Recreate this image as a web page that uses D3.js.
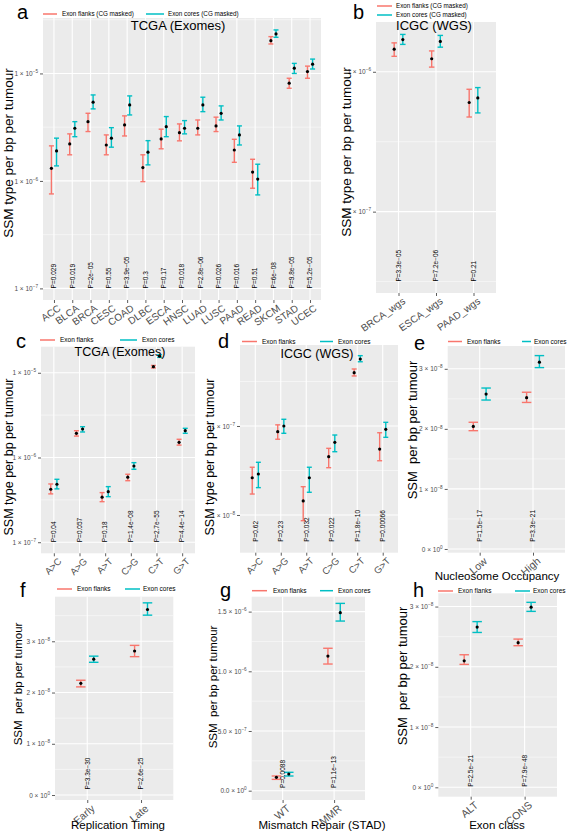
<!DOCTYPE html>
<html><head><meta charset="utf-8">
<script src="https://cdn.jsdelivr.net/npm/d3@7"></script>
<style>
body{margin:0;background:#fff}
svg{display:block}
text{font-family:"Liberation Sans",Arial,Helvetica,sans-serif}
</style>
</head><body>
<svg id="chart" width="567" height="832"></svg>
<script>
// ---------------- DATA ----------------
const seriesNamesMasked = ["Exon flanks (CG masked)", "Exon cores (CG masked)"];
const seriesNames = ["Exon flanks", "Exon cores"];

// Panel a: TCGA (Exomes)
const aCats = ["ACC","BLCA","BRCA","CESC","COAD","DLBC","ESCA","HNSC","LUAD","LUSC","PAAD","READ","SKCM","STAD","UCEC"];
const aFlank   = [1.31e-6,2.21e-6,3.56e-6,2.16e-6,3.32e-6,1.33e-6,2.46e-6,2.81e-6,3.09e-6,3.25e-6,1.94e-6,1.21e-6,2.02e-5,8.11e-6,1.04e-5];
const aFlankLo = [7.57e-7,1.75e-6,2.88e-6,1.75e-6,2.62e-6,9.85e-7,1.99e-6,2.36e-6,2.68e-6,2.88e-6,1.49e-6,8.55e-7,1.88e-5,7.28e-6,9.02e-6];
const aFlankHi = [2.12e-6,2.74e-6,4.26e-6,2.68e-6,4.03e-6,1.75e-6,3.03e-6,3.39e-6,3.69e-6,3.92e-6,2.44e-6,1.59e-6,2.20e-5,9.02e-6,1.17e-5];
const aCore    = [1.90e-6,3.09e-6,5.40e-6,2.50e-6,5.09e-6,1.85e-6,3.20e-6,3.09e-6,5.09e-6,4.26e-6,2.68e-6,1.04e-6,2.33e-5,1.12e-5,1.22e-5];
const aCoreLo  = [1.38e-6,2.58e-6,4.68e-6,2.06e-6,4.11e-6,1.41e-6,2.58e-6,2.74e-6,4.41e-6,3.69e-6,2.16e-6,7.41e-7,2.17e-5,1.00e-5,1.10e-5];
const aCoreHi  = [2.50e-6,3.56e-6,6.31e-6,3.13e-6,6.18e-6,2.37e-6,3.97e-6,3.64e-6,6.01e-6,4.99e-6,3.25e-6,1.43e-6,2.54e-5,1.24e-5,1.36e-5];
const aPvals = ["P=0.029","P=0.019","P=2e\u221205","P=0.55","P=3.9e\u221205","P=0.3","P=0.17","P=0.018","P=2.8e\u221206","P=0.026","P=0.016","P=0.51","P=6e\u221208","P=9.8e\u221205","P=5.2e\u221205"];
const aTicks = [1e-7,1e-6,1e-5];
const aTickLabels = ["1 \u00d7 10^\u22127","1 \u00d7 10^\u22126","1 \u00d7 10^\u22125"];
const aYLim = [7.8e-8, 3.28e-5];
const aPY = 1e-7;

// Panel b: ICGC (WGS)
const bCats = ["BRCA_wgs","ESCA_wgs","PAAD_wgs"];
const bFlank   = [1.45e-6,1.24e-6,6.03e-7];
const bFlankLo = [1.29e-6,1.08e-6,4.75e-7];
const bFlankHi = [1.61e-6,1.41e-6,7.50e-7];
const bCore    = [1.70e-6,1.65e-6,6.50e-7];
const bCoreLo  = [1.57e-6,1.50e-6,5.08e-7];
const bCoreHi  = [1.85e-6,1.82e-6,7.71e-7];
const bPvals = ["P=3.3e\u221205","P=7.2e\u221206","P=0.21"];
const bTicks = [1e-7,1e-6];
const bTickLabels = ["1 \u00d7 10^\u22127","1 \u00d7 10^\u22126"];
const bYLim = [2.62e-8, 2.27e-6];
const bPY = 3.16e-8;

// Panel c: TCGA (Exomes) by substitution
const cCats = ["A>C","A>G","A>T","C>G","C>T","G>T"];
const cFlank   = [4.22e-7,1.93e-6,3.40e-7,5.85e-7,1.18e-5,1.51e-6];
const cFlankLo = [3.72e-7,1.79e-6,3.01e-7,5.32e-7,1.14e-5,1.40e-6];
const cFlankHi = [4.87e-7,2.07e-6,3.85e-7,6.34e-7,1.22e-5,1.64e-6];
const cCore    = [4.83e-7,2.17e-6,3.95e-7,7.94e-7,1.57e-5,2.07e-6];
const cCoreLo  = [4.26e-7,2.00e-6,3.45e-7,7.26e-7,1.52e-5,1.93e-6];
const cCoreHi  = [5.53e-7,2.31e-6,4.53e-7,8.69e-7,1.63e-5,2.21e-6];
const cPvals = ["P=0.04","P=0.057","P=0.18","P=1.4e\u221208","P=2.7e\u221255","P=4.4e\u221214"];
const cTicks = [1e-7,1e-6,1e-5];
const cTickLabels = ["1 \u00d7 10^\u22127","1 \u00d7 10^\u22126","1 \u00d7 10^\u22125"];
const cYLim = [7.4e-8, 2.03e-5];
const cPY = 1e-7;

// Panel d: ICGC (WGS) by substitution
const dCats = ["A>C","A>G","A>T","C>G","C>T","G>T"];
const dFlank   = [2.62e-8,8.63e-8,1.44e-8,4.52e-8,3.97e-7,5.50e-8];
const dFlankLo = [1.72e-8,7.10e-8,8.63e-9,3.40e-8,3.65e-7,4.07e-8];
const dFlankHi = [3.44e-8,1.03e-7,2.08e-8,5.61e-8,4.37e-7,8.40e-8];
const dCore    = [2.89e-8,1.00e-7,2.62e-8,6.56e-8,5.66e-7,9.18e-8];
const dCoreLo  = [2.03e-8,8.28e-8,1.80e-8,5.14e-8,5.27e-7,7.46e-8];
const dCoreHi  = [3.91e-8,1.19e-7,3.44e-8,7.92e-8,6.17e-7,1.10e-7];
const dPvals = ["P=0.62","P=0.23","P=0.032","P=0.022","P=1.8e\u221210","P=0.00066"];
const dTicks = [1e-8,1e-7];
const dTickLabels = ["1 \u00d7 10^\u22128","1 \u00d7 10^\u22127"];
const dYLim = [3.77e-9, 8.13e-7];
const dPY = 5e-9;

// Panel e: Nucleosome Occupancy
const eCats = ["Low","High"];
const eFlank   = [2.04e-8,2.52e-8];
const eFlankLo = [1.97e-8,2.44e-8];
const eFlankHi = [2.11e-8,2.61e-8];
const eCore    = [2.58e-8,3.11e-8];
const eCoreLo  = [2.48e-8,3.02e-8];
const eCoreHi  = [2.68e-8,3.22e-8];
const ePvals = ["P=1.5e\u221217","P=3.3e\u221221"];
const eTicks = [0,1e-8,2e-8,3e-8];
const eTickLabels = ["0 \u00d7 10^0","1 \u00d7 10^\u22128","2 \u00d7 10^\u22128","3 \u00d7 10^\u22128"];
const eYLim = [-6.2e-10, 3.38e-8];
const ePY = 1.2e-9;

// Panel f: Replication Timing
const fCats = ["Early","Late"];
const fFlank   = [2.18e-8,2.81e-8];
const fFlankLo = [2.11e-8,2.70e-8];
const fFlankHi = [2.24e-8,2.92e-8];
const fCore    = [2.65e-8,3.62e-8];
const fCoreLo  = [2.59e-8,3.51e-8];
const fCoreHi  = [2.71e-8,3.75e-8];
const fPvals = ["P=3.3e\u221230","P=2.6e\u221225"];
const fTicks = [0,1e-8,2e-8,3e-8];
const fTickLabels = ["0 \u00d7 10^0","1 \u00d7 10^\u22128","2 \u00d7 10^\u22128","3 \u00d7 10^\u22128"];
const fYLim = [-9.7e-10, 3.87e-8];
const fPY = 1.1e-9;

// Panel g: Mismatch Repair (STAD)
const gCats = ["WT","MMR"];
const gFlank   = [1.12e-7,1.128e-6];
const gFlankLo = [9.5e-8,1.061e-6];
const gFlankHi = [1.23e-7,1.193e-6];
const gCore    = [1.40e-7,1.491e-6];
const gCoreLo  = [1.23e-7,1.421e-6];
const gCoreHi  = [1.54e-7,1.569e-6];
const gPvals = ["P=0.0088","P=1.1e\u221213"];
const gTicks = [0,5e-7,1e-6,1.5e-6];
const gTickLabels = ["0.0 \u00d7 10^0","5.0 \u00d7 10^\u22127","1.0 \u00d7 10^\u22126","1.5 \u00d7 10^\u22126"];
const gYLim = [-7.8e-8, 1.625e-6];
const gPY = 2.3e-8;

// Panel h: Exon class
const hCats = ["ALT","CONS"];
const hFlank   = [2.10e-8,2.40e-8];
const hFlankLo = [2.04e-8,2.35e-8];
const hFlankHi = [2.20e-8,2.46e-8];
const hCore    = [2.66e-8,2.99e-8];
const hCoreLo  = [2.57e-8,2.92e-8];
const hCoreHi  = [2.75e-8,3.07e-8];
const hPvals = ["P=2.5e\u221221","P=7.9e\u221248"];
const hTicks = [0,1e-8,2e-8,3e-8];
const hTickLabels = ["0 \u00d7 10^0","1 \u00d7 10^\u22128","2 \u00d7 10^\u22128","3 \u00d7 10^\u22128"];
const hYLim = [-1.56e-9, 3.22e-8];
const hPY = 1e-10;

// ---------------- DRAWING ----------------
const COL_FLANK = "#F8766D", COL_CORE = "#00BFC4";
const svg = d3.select("#chart");

function sciText(sel, str, fs) {
  const parts = str.split("^");
  sel.text(null);
  sel.append("tspan").text(parts[0]);
  if (parts.length > 1) sel.append("tspan").attr("dy", -fs * 0.45).attr("font-size", fs * 0.72).text(parts[1]);
}

function panel(o) {
  const g = svg.append("g");
  const x = d3.scalePoint().domain(o.cats).range([o.x0, o.x1]).padding(o.pad);
  const y = (o.log ? d3.scaleLog() : d3.scaleLinear()).domain(o.yLim).range([o.y1, o.y0]);
  const step = x.step();
  const dodge = o.dodge * step;

  g.append("rect").attr("x", o.x0).attr("y", o.y0).attr("width", o.x1 - o.x0).attr("height", o.y1 - o.y0).attr("fill", "#EBEBEB");

  // minor gridlines (midway between major breaks)
  let minors = [];
  if (o.log) {
    const e = o.ticks.map(t => Math.log10(t));
    const lo = d3.min(e) - 1, hi = d3.max(e) + 1;
    for (let k = lo; k < hi; k++) minors.push(Math.pow(10, k + 0.5));
  } else {
    const st = o.ticks[1] - o.ticks[0];
    for (let k = -1; k < o.ticks.length + 1; k++) minors.push(o.ticks[0] + (k + 0.5) * st);
  }
  minors = minors.filter(v => v > o.yLim[0] && v < o.yLim[1]);
  g.selectAll(null).data(minors).enter().append("line")
    .attr("x1", o.x0).attr("x2", o.x1).attr("y1", d => y(d)).attr("y2", d => y(d))
    .attr("stroke", "#fff").attr("stroke-width", 0.5);
  g.selectAll(null).data(o.ticks).enter().append("line")
    .attr("x1", o.x0).attr("x2", o.x1).attr("y1", d => y(d)).attr("y2", d => y(d))
    .attr("stroke", "#fff").attr("stroke-width", 1.1);
  g.selectAll(null).data(o.cats).enter().append("line")
    .attr("x1", d => x(d)).attr("x2", d => x(d)).attr("y1", o.y0).attr("y2", o.y1)
    .attr("stroke", "#fff").attr("stroke-width", 1.1);

  // y axis
  const ya = g.append("g").attr("transform", `translate(${o.x0},0)`)
    .call(d3.axisLeft(y).tickValues(o.ticks).tickSize(3).tickPadding(2));
  ya.attr("font-size", null).attr("font-family", null);
  ya.select(".domain").remove();
  ya.selectAll(".tick line").attr("stroke", "#333").attr("stroke-width", 0.8);
  ya.selectAll(".tick text").attr("fill", "#4d4d4d").attr("font-size", o.yfs)
    .each(function(d, i) { sciText(d3.select(this), o.tickLabels[i], o.yfs); });

  // x axis
  const xa = g.append("g").attr("transform", `translate(0,${o.y1})`)
    .call(d3.axisBottom(x).tickSize(3).tickPadding(2));
  xa.attr("font-size", null).attr("font-family", null);
  xa.select(".domain").remove();
  xa.selectAll(".tick line").attr("stroke", "#333").attr("stroke-width", 0.8);
  xa.selectAll(".tick text").attr("fill", "#4d4d4d").attr("font-size", o.xfs)
    .attr("text-anchor", "end").attr("x", 0).attr("y", 0).attr("dy", "0.7em")
    .attr("transform", `translate(${o.xlx},${o.xly}) rotate(${-o.angle})`);

  // error bars + points
  const series = [
    {col: COL_FLANK, m: o.flank, lo: o.flankLo, hi: o.flankHi, off: -dodge},
    {col: COL_CORE, m: o.core, lo: o.coreLo, hi: o.coreHi, off: dodge}
  ];
  series.forEach(s => {
    const rows = o.cats.map((c, i) => ({c, m: s.m[i], lo: s.lo[i], hi: s.hi[i]}));
    const eg = g.append("g").attr("stroke", s.col).attr("stroke-width", 1.4).attr("fill", "none");
    rows.forEach(r => {
      const cx = x(r.c) + s.off;
      eg.append("line").attr("x1", cx).attr("x2", cx).attr("y1", y(r.lo)).attr("y2", y(r.hi));
      eg.append("line").attr("x1", cx - o.cap / 2).attr("x2", cx + o.cap / 2).attr("y1", y(r.lo)).attr("y2", y(r.lo));
      eg.append("line").attr("x1", cx - o.cap / 2).attr("x2", cx + o.cap / 2).attr("y1", y(r.hi)).attr("y2", y(r.hi));
    });
    g.selectAll(null).data(rows).enter().append("circle")
      .attr("cx", r => x(r.c) + s.off).attr("cy", r => y(r.m)).attr("r", 1.6).attr("fill", "#000");
  });

  // p-value labels
  g.selectAll(null).data(o.cats).enter().append("text")
    .attr("transform", d => `translate(${x(d)},${y(o.pY)}) rotate(-90)`)
    .attr("dy", "0.35em").attr("font-size", o.pfs).attr("fill", "#000")
    .text((d, i) => o.pvals[i]);

  // title inside
  if (o.title) g.append("text").attr("x", o.title.x).attr("y", o.title.y).attr("text-anchor", "middle")
    .attr("font-size", o.title.fs).attr("fill", "#000").text(o.title.t);

  // y title
  g.append("text").attr("transform", `translate(${o.yt.x},${o.yt.y}) rotate(-90)`)
    .attr("text-anchor", "middle").attr("font-size", o.yt.fs).attr("fill", "#000")
    .style("white-space", "pre").text(o.yt.t);

  // x title
  if (o.xt) g.append("text").attr("x", o.xt.x).attr("y", o.xt.y).attr("text-anchor", "middle")
    .attr("font-size", o.xt.fs).attr("fill", "#000").text(o.xt.t);

  // panel letter
  g.append("text").attr("x", o.letter.x).attr("y", o.letter.y).attr("font-size", 20)
    .attr("fill", "#000").text(o.letter.t);

  // legend
  o.legend.items.forEach((it, i) => {
    g.append("line").attr("x1", it.x1).attr("x2", it.x2).attr("y1", it.y).attr("y2", it.y)
      .attr("stroke", i === 0 ? COL_FLANK : COL_CORE).attr("stroke-width", 1.5);
    g.append("text").attr("x", it.tx).attr("y", it.y).attr("dy", "0.35em")
      .attr("font-size", o.legend.fs).attr("fill", "#000").text(o.legend.names[i]);
  });
}

panel({cats: aCats, flank: aFlank, flankLo: aFlankLo, flankHi: aFlankHi, core: aCore, coreLo: aCoreLo, coreHi: aCoreHi,
  pvals: aPvals, ticks: aTicks, tickLabels: aTickLabels, yLim: aYLim, pY: aPY, log: true,
  x0: 43, x1: 321, y0: 18, y1: 300, pad: 0.6, dodge: 0.14, cap: 5, yfs: 6.5, xfs: 10, pfs: 6.5,
  angle: 35, xlx: 3, xly: 4,
  title: {t: "TCGA (Exomes)", x: 178, y: 30, fs: 13},
  yt: {t: "SSM type per bp per tumour", x: 13, y: 153, fs: 13.5},
  letter: {t: "a", x: 17, y: 18.5},
  legend: {fs: 6.3, names: seriesNamesMasked, items: [{x1: 43, x2: 57, tx: 62, y: 14}, {x1: 146, x2: 164, tx: 168, y: 14}]}
});

panel({cats: bCats, flank: bFlank, flankLo: bFlankLo, flankHi: bFlankHi, core: bCore, coreLo: bCoreLo, coreHi: bCoreHi,
  pvals: bPvals, ticks: bTicks, tickLabels: bTickLabels, yLim: bYLim, pY: bPY, log: true,
  x0: 376, x1: 496, y0: 22, y1: 293, pad: 0.6, dodge: 0.115, cap: 5.5, yfs: 6.5, xfs: 10, pfs: 6.5,
  angle: 35, xlx: 3, xly: 4,
  title: {t: "ICGC (WGS)", x: 434, y: 30, fs: 13},
  yt: {t: "SSM type per bp per tumour", x: 351, y: 152, fs: 13.5},
  letter: {t: "b", x: 353, y: 18.5},
  legend: {fs: 6.3, names: seriesNamesMasked, items: [{x1: 377, x2: 392, tx: 396, y: 6}, {x1: 377, x2: 392, tx: 396, y: 15}]}
});

panel({cats: cCats, flank: cFlank, flankLo: cFlankLo, flankHi: cFlankHi, core: cCore, coreLo: cCoreLo, coreHi: cCoreHi,
  pvals: cPvals, ticks: cTicks, tickLabels: cTickLabels, yLim: cYLim, pY: cPY, log: true,
  x0: 41, x1: 195, y0: 346.7, y1: 553.3, pad: 0.5, dodge: 0.12, cap: 5, yfs: 6.5, xfs: 9.5, pfs: 6.5,
  angle: 45, xlx: 3, xly: 4,
  title: {t: "TCGA (Exomes)", x: 120, y: 356, fs: 12.5},
  yt: {t: "SSM type per bp per tumour", x: 13, y: 457, fs: 12.5},
  letter: {t: "c", x: 16, y: 348},
  legend: {fs: 6.5, names: seriesNames, items: [{x1: 40, x2: 55, tx: 60, y: 340}, {x1: 120, x2: 137, tx: 142, y: 340}]}
});

panel({cats: dCats, flank: dFlank, flankLo: dFlankLo, flankHi: dFlankHi, core: dCore, coreLo: dCoreLo, coreHi: dCoreHi,
  pvals: dPvals, ticks: dTicks, tickLabels: dTickLabels, yLim: dYLim, pY: dPY, log: true,
  x0: 240, x1: 398, y0: 345, y1: 552.7, pad: 0.6, dodge: 0.12, cap: 5, yfs: 6.5, xfs: 9.5, pfs: 6.5,
  angle: 45, xlx: 3, xly: 4,
  title: {t: "ICGC (WGS)", x: 317, y: 358, fs: 12.5},
  yt: {t: "SSM type per bp per tumour", x: 214, y: 457, fs: 12.5},
  letter: {t: "d", x: 218, y: 348},
  legend: {fs: 6.5, names: seriesNames, items: [{x1: 242, x2: 257, tx: 262, y: 341.5}, {x1: 320, x2: 333, tx: 338, y: 341.5}]}
});

panel({cats: eCats, flank: eFlank, flankLo: eFlankLo, flankHi: eFlankHi, core: eCore, coreLo: eCoreLo, coreHi: eCoreHi,
  pvals: ePvals, ticks: eTicks, tickLabels: eTickLabels, yLim: eYLim, pY: ePY, log: false,
  x0: 447.7, x1: 565, y0: 346, y1: 552.7, pad: 0.6, dodge: 0.12, cap: 9.5, yfs: 6.5, xfs: 10.5, pfs: 6.5,
  angle: 40, xlx: 3, xly: 4,
  yt: {t: "SSM  per bp per tumour", x: 417, y: 430, fs: 13},
  xt: {t: "Nucleosome Occupancy", x: 497, y: 580, fs: 11.5},
  letter: {t: "e", x: 414, y: 350},
  legend: {fs: 6.5, names: seriesNames, items: [{x1: 448, x2: 462, tx: 467, y: 341.5}, {x1: 522, x2: 531, tx: 534, y: 341.5}]}
});

panel({cats: fCats, flank: fFlank, flankLo: fFlankLo, flankHi: fFlankHi, core: fCore, coreLo: fCoreLo, coreHi: fCoreHi,
  pvals: fPvals, ticks: fTicks, tickLabels: fTickLabels, yLim: fYLim, pY: fPY, log: false,
  x0: 55, x1: 173.3, y0: 596.7, y1: 800, pad: 0.6, dodge: 0.12, cap: 9.5, yfs: 6.5, xfs: 10.5, pfs: 6.5,
  angle: 40, xlx: 3, xly: 4,
  yt: {t: "SSM  per bp per tumour", x: 22, y: 684, fs: 11.5},
  xt: {t: "Replication Timing", x: 118, y: 828.5, fs: 11.5},
  letter: {t: "f", x: 20, y: 597},
  legend: {fs: 6.5, names: seriesNames, items: [{x1: 57, x2: 72, tx: 77, y: 589}, {x1: 125, x2: 140, tx: 143, y: 589}]}
});

panel({cats: gCats, flank: gFlank, flankLo: gFlankLo, flankHi: gFlankHi, core: gCore, coreLo: gCoreLo, coreHi: gCoreHi,
  pvals: gPvals, ticks: gTicks, tickLabels: gTickLabels, yLim: gYLim, pY: gPY, log: false,
  x0: 251.7, x1: 365, y0: 596.7, y1: 800, pad: 0.6, dodge: 0.12, cap: 9.5, yfs: 6.5, xfs: 10.5, pfs: 6.5,
  angle: 40, xlx: 3, xly: 4,
  yt: {t: "SSM  per bp per tumour", x: 217, y: 687, fs: 11.5},
  xt: {t: "Mismatch Repair (STAD)", x: 322, y: 828.5, fs: 11.5},
  letter: {t: "g", x: 220, y: 597},
  legend: {fs: 6.5, names: seriesNames, items: [{x1: 252, x2: 267, tx: 273, y: 590.7}, {x1: 320, x2: 333, tx: 338, y: 590.7}]}
});

panel({cats: hCats, flank: hFlank, flankLo: hFlankLo, flankHi: hFlankHi, core: hCore, coreLo: hCoreLo, coreHi: hCoreHi,
  pvals: hPvals, ticks: hTicks, tickLabels: hTickLabels, yLim: hYLim, pY: hPY, log: false,
  x0: 438.3, x1: 557, y0: 593.3, y1: 796.7, pad: 0.6, dodge: 0.12, cap: 9.5, yfs: 6.5, xfs: 10.5, pfs: 6.5,
  angle: 40, xlx: 3, xly: 4,
  yt: {t: "SSM  per bp per tumour", x: 407, y: 676, fs: 13},
  xt: {t: "Exon class", x: 497, y: 828.5, fs: 11.5},
  letter: {t: "h", x: 413, y: 597},
  legend: {fs: 6.5, names: seriesNames, items: [{x1: 438, x2: 453, tx: 458, y: 591}, {x1: 515, x2: 530, tx: 533, y: 591}]}
});
</script>
</body></html>
